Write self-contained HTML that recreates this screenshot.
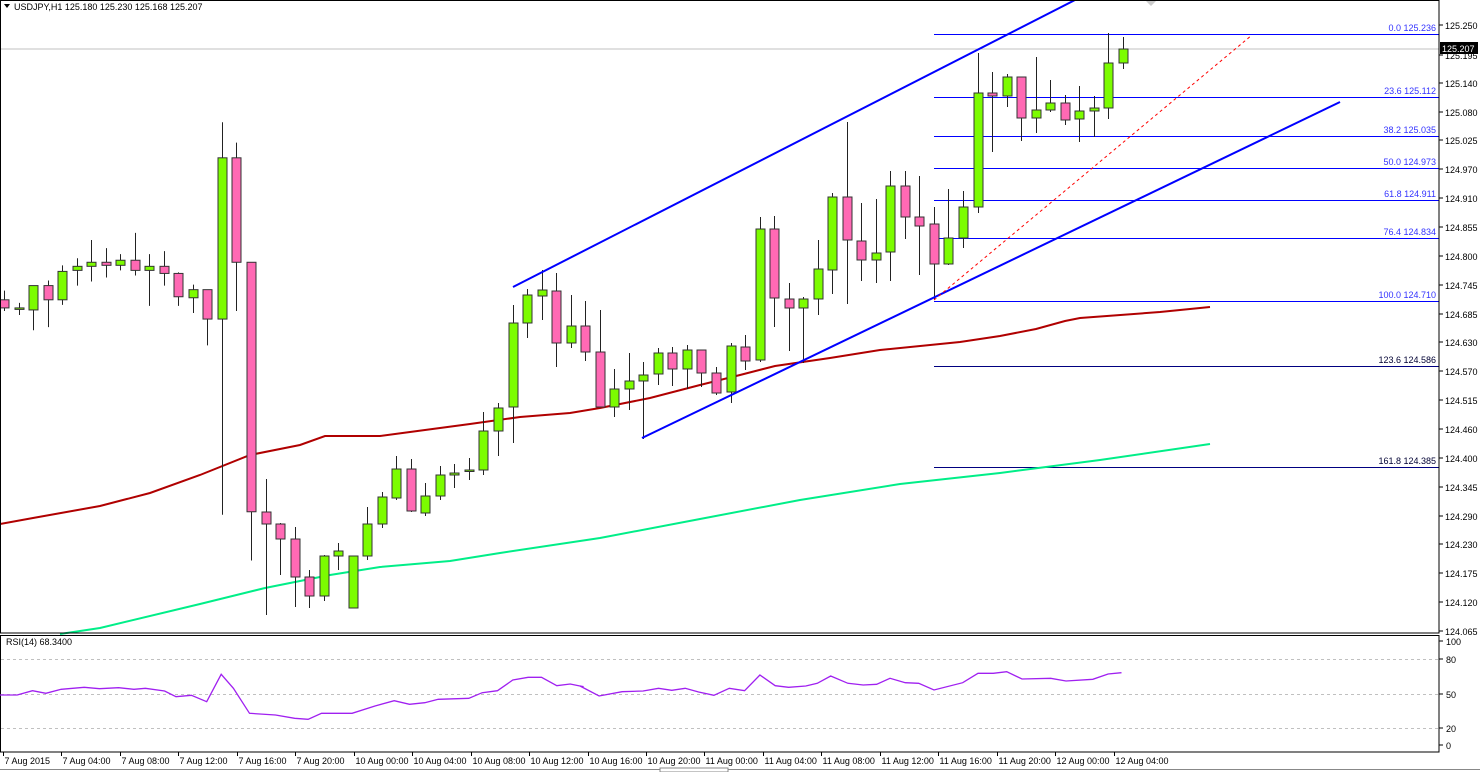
<!DOCTYPE html>
<html><head><meta charset="utf-8"><style>
html,body{margin:0;padding:0;background:#fff;}
svg{display:block;}
text{font-family:"Liberation Sans",sans-serif;}
</style></head><body>
<svg id="c" width="1480" height="772" xmlns="http://www.w3.org/2000/svg"></svg>
<script>
(function(){
var raw=[
[297,288,308,305],[305,300,312,305],[307,283,327,283],[283,278,324,297],[297,263,302,269],
[268,256,283,264],[264,238,279,260],[260,246,275,263],[263,252,268,258],[258,231,273,268],
[268,252,303,264],[264,249,283,271],[271,270,303,294],[295,282,310,287],[287,287,342,316],
[316,122,509,157],[157,142,308,260],[260,260,554,506]];
var d=raw.map(function(r){return r.map(function(y){return 100+(y-100)*1.0142;});});
d=d.concat([
[512,479,615,524],[524,523,575,539],[539,527,607,577],[577,570,608,596],[596,555,601,556],
[556,543,570,551],[608,556,608,556],[556,507,560,524],[524,492,528,497],[498,456,500,469],
[469,459,512,511],[513,483,516,496],[496,466,500,475],[475,464,488,473],[470,458,480,470],
[470,412,475,431],[431,403,456,408],[407,305,443,323],[323,289,338,295],[296,270,320,290],
[291,273,367,343],[343,295,348,326],[326,301,361,352],[352,310,407,407],[407,369,417,389],
[389,353,410,381],[381,362,439,375],[374,348,385,353],[353,347,386,369],[369,345,389,350],
[350,350,387,373],[373,367,395,393],[392,343,403,346],[347,335,370,361],[360,217,362,229],
[229,216,327,298],[299,283,351,308],[308,297,363,299],[299,240,315,269],[270,193,294,197],
[197,122,304,240],[241,203,281,260],[260,199,283,253],[252,171,281,186],[186,171,239,217],
[217,176,275,226],[224,207,300,264],[264,189,265,238],[238,191,248,207],[207,53,213,93],
[93,72,152,96],[96,74,107,77],[77,77,141,118],[118,57,133,110],[110,80,112,103],
[103,95,125,120],[119,86,142,111],[111,96,137,108],[108,33,119,63],[63,37,69,49]]);
var s='';
function L(x1,y1,x2,y2,c,w,ex){s+='<line x1="'+x1+'" y1="'+y1+'" x2="'+x2+'" y2="'+y2+'" stroke="'+c+'" stroke-width="'+(w||1)+'" '+(ex||'')+'/>';}
function T(x,y,t,sz,c,anc){s+='<text x="'+x+'" y="'+y+'" font-size="'+(sz||10)+'" fill="'+(c||'#000')+'" text-anchor="'+(anc||'start')+'">'+t+'</text>';}
function P(pts,c,w,ex){s+='<polyline fill="none" stroke="'+c+'" stroke-width="'+w+'" points="'+pts+'" '+(ex||'')+'/>';}
L(0,49,1439,49,'#c0c0c0',1);
var fib=[[34,'0.0 125.236','#0000ff'],[97,'23.6 125.112','#0000ff'],[136,'38.2 125.035','#0000ff'],[168,'50.0 124.973','#0000ff'],[200,'61.8 124.911','#0000ff'],[238,'76.4 124.834','#0000ff'],[301,'100.0 124.710','#0000ff'],[366,'123.6 124.586','#000080'],[467,'161.8 124.385','#000080']];
fib.forEach(function(f){L(934,f[0]+.5,1439,f[0]+.5,f[2],1);T(1436,f[0]-3,f[1],9,f[2]=='#0000ff'?'#3333ff':'#000033','end');});
P('0,524 33,518 100,506 150,493 200,475 250,455 300,445 325,436 380,436 410,432 470,424 520,417 570,413 600,408 650,398 700,385 740,375 775,366 830,358 880,350 960,342 1000,336 1036,329 1065,321 1080,318 1160,312 1210,307','#b00000',2);
P('60,634 100,628 200,604 265,588 330,575 380,567 450,561 500,553 600,538 700,519 800,500 900,484 1000,473 1100,460 1210,444','#00ee88',2);
for(var i=0;i<d.length;i++){var cx=Math.round(4+14.53*i)+.5,o=d[i][0],h=d[i][1],l=d[i][2],c=d[i][3];
 L(cx,h,cx,l,'#222',1);
 var bull=c<=o,by=Math.min(o,c),bh=Math.max(Math.abs(o-c),1.5);
 s+='<rect x="'+(cx-4.5)+'" y="'+by+'" width="9" height="'+bh+'" fill="'+(bull?'#7cfc00':'#ff69b4')+'" stroke="#333" stroke-width="1"/>';}
L(513,287,1075,0,'#0000ff',2);
L(642,438,1340,102,'#0000ff',2);
L(934,300,1252,35,'#ff0000',1,'stroke-dasharray="3,3"');
s+='<rect x="0.5" y="0.5" width="1438.5" height="632.5" fill="none" stroke="#000"/>';
s+='<polygon points="4,4 10,4 7,8" fill="#000"/>';
T(14,10,'USDJPY,H1  125.180 125.230 125.168 125.207',9);
s+='<polygon points="1146,1 1156,1 1151,6" fill="#ccc"/>';
var pl=['125.250','125.195','125.140','125.080','125.025','124.970','124.910','124.855','124.800','124.745','124.685','124.630','124.570','124.515','124.460','124.400','124.345','124.290','124.230','124.175','124.120','124.065'];
pl.forEach(function(p,k){var y=Math.round(25+28.86*k);if(k==1)y=55;L(1439,y,1443,y,'#000');T(1445,y+4,p,9);});
s+='<rect x="1440" y="42" width="38" height="12" fill="#000"/>';T(1442,52,'125.207',9,'#fff');
s+='<rect x="0.5" y="635.5" width="1438.5" height="116.5" fill="none" stroke="#000"/>';
[659,694,728].forEach(function(y){L(1,y+.5,1438,y+.5,'#c0c0c0',1,'stroke-dasharray="3,3"');});
T(6,645,'RSI(14) 68.3400',9);
[[641,'100'],[659,'80'],[694,'50'],[728,'20'],[745,'0']].forEach(function(r){L(1439,r[0],1443,r[0],'#000');T(1446,r[0]+4,r[1],9);});
var r1=[[0,195],[45,195],[85,182],[120,190],[160,178],[220,172],[260,176],[310,173],[350,178],[380,175],[430,183],[460,200],[500,196],[540,215],[578,133],[610,175],[652,250],[720,255],[770,265],[805,268],[840,250],[920,250],[980,228],[1030,212],[1070,223],[1110,218],[1145,208],[1225,205],[1260,188],[1300,182],[1340,150],[1380,142],[1415,142],[1455,167],[1490,162],[1525,170]];
var r2=[[0,168],[50,198],[110,185],[165,183],[205,175],[240,181],[275,175],[310,186],[350,196],[390,175],[430,182],[470,135],[510,167],[545,172],[590,168],[620,160],[655,138],[700,160],[740,165],[775,163],[810,145],[850,158],[885,160],[925,180],[1000,158],[1040,130],[1080,130],[1115,125],[1155,147],[1230,145],[1270,153],[1340,148],[1380,132],[1415,128]];
var pts=r1.map(function(p){return (p[0]/2.613).toFixed(1)+','+(630+p[1]/3).toFixed(1);}).concat(r2.map(function(p){return (580+p[0]/2.613).toFixed(1)+','+(630+p[1]/3).toFixed(1);})).join(' ');
P(pts,'#a020f0',1.3);
var tl=['7 Aug 2015','7 Aug 04:00','7 Aug 08:00','7 Aug 12:00','7 Aug 16:00','7 Aug 20:00','10 Aug 00:00','10 Aug 04:00','10 Aug 08:00','10 Aug 12:00','10 Aug 16:00','10 Aug 20:00','11 Aug 00:00','11 Aug 04:00','11 Aug 08:00','11 Aug 12:00','11 Aug 16:00','11 Aug 20:00','12 Aug 00:00','12 Aug 04:00'];
tl.forEach(function(t,k){var tx=Math.round(3+58.45*k)+.5;L(tx,752,tx,756,'#000');T(tx+1,764,t,9);});
L(0,769.5,1480,769.5,'#888');
s+='<rect x="660" y="768" width="68" height="4" fill="#fff" stroke="#888"/>';
document.getElementById('c').innerHTML=s;
})();
</script>
</body></html>
